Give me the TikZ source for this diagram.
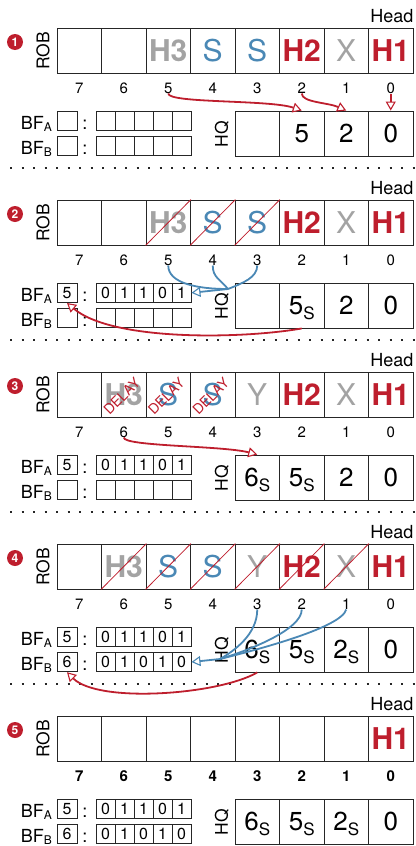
\documentclass[tikz,border=0pt]{standalone}
\usepackage{fontspec}
\setmainfont{TeX Gyre Heros}
\usepackage{xcolor}
\usepackage{tikz}
\usetikzlibrary{arrows.meta}
\definecolor{robred}{HTML}{BE1E2D}
\definecolor{robblue}{HTML}{4A88B5}
\definecolor{robgray}{HTML}{A3A3A3}
\definecolor{framegray}{HTML}{262626}
\newcommand{\bfsub}[1]{\raisebox{-2pt}{\fontsize{12}{12}\selectfont #1}}
\newcommand{\hqS}{\raisebox{-5pt}{\fontsize{17}{17}\selectfont S}}

\begin{document}
\begin{tikzpicture}[
  x=1pt, y=1pt,
  robcell/.style={draw=framegray, line width=0.9pt, minimum width=44.5pt, minimum height=45pt,
                  inner sep=0pt, font=\fontsize{30}{30}\selectfont, text height=21.5pt, text depth=0pt},
  ce/.style={},
  hg/.style={text=robgray, font=\fontsize{30}{30}\selectfont\bfseries},
  hr/.style={text=robred, font=\fontsize{30}{30}\selectfont\bfseries},
  sb/.style={text=robblue},
  xg/.style={text=robgray},
  hqcell/.style={robcell, font=\fontsize{26}{26}\selectfont, text height=18.7pt},
  idx/.style={inner sep=0pt, font=\fontsize{15}{15}\selectfont, text height=10.6pt, text depth=0pt},
  idxb/.style={idx, font=\fontsize{15}{15}\selectfont\bfseries},
  bfbox/.style={draw=framegray, line width=0.9pt, minimum width=20pt, minimum height=19.5pt,
                inner sep=0pt, font=\fontsize{16}{16}\selectfont, text height=11.5pt, text depth=0pt},
  bitbox/.style={bfbox, minimum width=19pt},
  bflbl/.style={anchor=east, inner sep=0pt, font=\fontsize{18}{18}\selectfont, text height=13pt, text depth=0pt},
  colonlbl/.style={inner sep=0pt, font=\fontsize{18}{18}\selectfont, text height=13pt, text depth=0pt},
  sidelbl/.style={rotate=90, inner sep=0pt, font=\fontsize{17.5}{18}\selectfont, text height=12.5pt, text depth=0pt},
  headlbl/.style={anchor=east, inner sep=0pt, font=\fontsize{18}{18}\selectfont, text height=13pt, text depth=0pt},
  stepnum/.style={circle, fill=robred, text=white, inner sep=0pt, minimum size=16pt,
                  font=\fontsize{12}{12}\selectfont\bfseries},
  strikeout/.style={draw=robred, line width=0.8pt},
  delaylbl/.style={rotate=45, text=robred, inner sep=0pt, font=\fontsize{14}{14}\selectfont},
  opentip/.style={-{Triangle[length=9pt,width=10pt,fill=white,line width=1.1pt]}},
  rarr/.style={opentip, draw=robred, line width=1.8pt},
  barr/.style={opentip, draw=robblue, line width=1.8pt},
  bline/.style={draw=robblue, line width=1.8pt},
  sepline/.style={draw=framegray, line width=2pt, dash pattern=on 2pt off 9.5pt}
]
  \useasboundingbox (0,0) rectangle (415,-846);

  % separators
  \draw[sepline] (10,-168) -- (415,-168);
  \draw[sepline] (10,-340) -- (415,-340);
  \draw[sepline] (10,-512) -- (415,-512);
  \draw[sepline] (10,-684) -- (415,-684);

  % ---- step 1
  \begin{scope}[yshift=-28pt]
    \node[stepnum] (n1) at (15,-14) {1};
    \node[sidelbl] (rob1) at (43,-23) {ROB};
    \node[headlbl] (hd1) at (413.5,11.7) {Head};
    \foreach \k/\sty/\txt in {7/ce/{},6/ce/{},5/hg/H3,4/sb/S,3/sb/S,2/hr/H2,1/xg/X,0/hr/H1}
      \node[robcell,\sty] (r1c\k) at ({79.25+(7-\k)*44.5},-22.5) {\txt};
    \foreach \k in {0,...,7}
      \node[idx] (i1c\k) at ({79.25+(7-\k)*44.5},-60) {\k};
    \node[sidelbl] (hq1) at (221.5,-106) {HQ};
    \foreach \k/\txt in {3/{},2/5,1/2,0/0}
      \node[hqcell] (q1c\k) at ({79.25+(7-\k)*44.5},-105.5) {\txt};
    \node[bflbl] (la1) at (52,-95) {BF\bfsub{A}};
    \node[bflbl] (lb1) at (52,-120) {BF\bfsub{B}};
    \node[bfbox] (a1) at (67,-92.8) {};
    \node[bfbox] (b1) at (67,-118) {};
    \node[colonlbl] (ca1) at (85,-95) {:};
    \node[colonlbl] (cb1) at (85,-120) {:};
    \foreach \bi in {0,...,4} {
      \node[bitbox] (a1b\bi) at ({105.5+19*\bi},-92.8) {};
      \node[bitbox] (b1b\bi) at ({105.5+19*\bi},-118) {};
    }
    % entries into HQ
    \draw[rarr] (i1c5.south) .. controls +(0,-10) and +(-32,11) .. (q1c2.north);
    \draw[rarr] (i1c2.south) .. controls +(0,-9) and +(-18,8) .. (q1c1.north);
    \draw[rarr] (i1c0.south) -- (q1c0.north);
  \end{scope}

  % ---- step 2
  \begin{scope}[yshift=-200pt]
    \node[stepnum] (n2) at (15,-14) {2};
    \node[sidelbl] (rob2) at (43,-23) {ROB};
    \node[headlbl] (hd2) at (413.5,11.7) {Head};
    \foreach \k/\sty/\txt in {7/ce/{},6/ce/{},5/hg/H3,4/sb/S,3/sb/S,2/hr/H2,1/xg/X,0/hr/H1}
      \node[robcell,\sty] (r2c\k) at ({79.25+(7-\k)*44.5},-22.5) {\txt};
    \foreach \k in {5,4,3}
      \draw[strikeout] (r2c\k.south west) -- (r2c\k.north east);
    \foreach \k in {0,...,7}
      \node[idx] (i2c\k) at ({79.25+(7-\k)*44.5},-60) {\k};
    \node[sidelbl] (hq2) at (221.5,-106) {HQ};
    \foreach \k/\txt in {3/{},2/5\hqS,1/2,0/0}
      \node[hqcell] (q2c\k) at ({79.25+(7-\k)*44.5},-105.5) {\txt};
    \node[bflbl] (la2) at (52,-95) {BF\bfsub{A}};
    \node[bflbl] (lb2) at (52,-120) {BF\bfsub{B}};
    \node[bfbox] (a2) at (67,-92.8) {5};
    \node[bfbox] (b2) at (67,-118) {};
    \node[colonlbl] (ca2) at (85,-95) {:};
    \node[colonlbl] (cb2) at (85,-120) {:};
    \foreach \bi/\txt in {0/0,1/1,2/1,3/0,4/1}
      \node[bitbox] (a2b\bi) at ({105.5+19*\bi},-92.8) {\txt};
    \foreach \bi in {0,...,4}
      \node[bitbox] (b2b\bi) at ({105.5+19*\bi},-118) {};
    % speculative slots into BF_A
    \coordinate (m2) at (228,-89);
    \draw[bline] (i2c5.south) .. controls +(0,-18) and +(-30,0) .. (m2);
    \draw[bline] (i2c4.south) .. controls +(0,-12) and +(-8,10) .. (m2);
    \draw[bline] (i2c3.south) .. controls +(0,-12) and +(15,6) .. (m2);
    \draw[barr] (m2) -- (a2b4.east);
    \draw[rarr] (q2c2.south) to[out=190,in=-40,looseness=0.65] (a2.south);
  \end{scope}

  % ---- step 3
  \begin{scope}[yshift=-372pt]
    \node[stepnum] (n3) at (15,-14) {3};
    \node[sidelbl] (rob3) at (43,-23) {ROB};
    \node[headlbl] (hd3) at (413.5,11.7) {Head};
    \foreach \k/\sty/\txt in {7/ce/{},6/hg/H3,5/sb/S,4/sb/S,3/xg/Y,2/hr/H2,1/xg/X,0/hr/H1}
      \node[robcell,\sty] (r3c\k) at ({79.25+(7-\k)*44.5},-22.5) {\txt};
    \foreach \k in {6,5,4}
      \node[delaylbl] (d3c\k) at ([xshift=-2pt,yshift=-2pt]r3c\k.center) {DELAY};
    \foreach \k in {0,...,7}
      \node[idx] (i3c\k) at ({79.25+(7-\k)*44.5},-60) {\k};
    \node[sidelbl] (hq3) at (221.5,-106) {HQ};
    \foreach \k/\txt in {3/6\hqS,2/5\hqS,1/2,0/0}
      \node[hqcell] (q3c\k) at ({79.25+(7-\k)*44.5},-105.5) {\txt};
    \node[bflbl] (la3) at (52,-95) {BF\bfsub{A}};
    \node[bflbl] (lb3) at (52,-120) {BF\bfsub{B}};
    \node[bfbox] (a3) at (67,-92.8) {5};
    \node[bfbox] (b3) at (67,-118) {};
    \node[colonlbl] (ca3) at (85,-95) {:};
    \node[colonlbl] (cb3) at (85,-120) {:};
    \foreach \bi/\txt in {0/0,1/1,2/1,3/0,4/1}
      \node[bitbox] (a3b\bi) at ({105.5+19*\bi},-92.8) {\txt};
    \foreach \bi in {0,...,4}
      \node[bitbox] (b3b\bi) at ({105.5+19*\bi},-118) {};
    \draw[rarr] (i3c6.south) .. controls +(0,-9) and +(-35,9) .. (q3c3.north);
  \end{scope}

  % ---- step 4
  \begin{scope}[yshift=-544pt]
    \node[stepnum] (n4) at (15,-14) {4};
    \node[sidelbl] (rob4) at (43,-23) {ROB};
    \node[headlbl] (hd4) at (413.5,11.7) {Head};
    \foreach \k/\sty/\txt in {7/ce/{},6/hg/H3,5/sb/S,4/sb/S,3/xg/Y,2/hr/H2,1/xg/X,0/hr/H1}
      \node[robcell,\sty] (r4c\k) at ({79.25+(7-\k)*44.5},-22.5) {\txt};
    \foreach \k in {6,...,1}
      \draw[strikeout] (r4c\k.south west) -- (r4c\k.north east);
    \foreach \k in {0,...,7}
      \node[idx] (i4c\k) at ({79.25+(7-\k)*44.5},-60) {\k};
    \node[sidelbl] (hq4) at (221.5,-106) {HQ};
    \foreach \k/\txt in {3/6\hqS,2/5\hqS,1/2\hqS,0/0}
      \node[hqcell] (q4c\k) at ({79.25+(7-\k)*44.5},-105.5) {\txt};
    \node[bflbl] (la4) at (52,-95) {BF\bfsub{A}};
    \node[bflbl] (lb4) at (52,-120) {BF\bfsub{B}};
    \node[bfbox] (a4) at (67,-92.8) {5};
    \node[bfbox] (b4) at (67,-118) {6};
    \node[colonlbl] (ca4) at (85,-95) {:};
    \node[colonlbl] (cb4) at (85,-120) {:};
    \foreach \bi/\txt in {0/0,1/1,2/1,3/0,4/1}
      \node[bitbox] (a4b\bi) at ({105.5+19*\bi},-92.8) {\txt};
    \foreach \bi/\txt in {0/0,1/1,2/0,3/1,4/0}
      \node[bitbox] (b4b\bi) at ({105.5+19*\bi},-118) {\txt};
    % speculative slots into BF_B
    \coordinate (m4) at (220,-115);
    \draw[bline] (i4c3.south) .. controls +(0,-25) and +(14,8) .. (m4);
    \draw[bline] (i4c2.south) .. controls +(0,-20) and +(30,9) .. (m4);
    \draw[bline] (i4c1.south) .. controls +(-5,-18) and +(40,10) .. (m4);
    \draw[barr] (m4) -- (b4b4.east);
    \draw[rarr] (q4c3.south) to[out=-150,in=-45,looseness=0.6] (b4.south);
  \end{scope}

  % ---- step 5
  \begin{scope}[yshift=-716pt]
    \node[stepnum] (n5) at (15,-14) {5};
    \node[sidelbl] (rob5) at (43,-23) {ROB};
    \node[headlbl] (hd5) at (413.5,11.7) {Head};
    \foreach \k/\sty/\txt in {7/ce/{},6/ce/{},5/ce/{},4/ce/{},3/ce/{},2/ce/{},1/ce/{},0/hr/H1}
      \node[robcell,\sty] (r5c\k) at ({79.25+(7-\k)*44.5},-22.5) {\txt};
    \foreach \k in {0,...,7}
      \node[idxb] (i5c\k) at ({79.25+(7-\k)*44.5},-60) {\k};
    \node[sidelbl] (hq5) at (221.5,-106) {HQ};
    \foreach \k/\txt in {3/6\hqS,2/5\hqS,1/2\hqS,0/0}
      \node[hqcell] (q5c\k) at ({79.25+(7-\k)*44.5},-105.5) {\txt};
    \node[bflbl] (la5) at (52,-95) {BF\bfsub{A}};
    \node[bflbl] (lb5) at (52,-120) {BF\bfsub{B}};
    \node[bfbox] (a5) at (67,-92.8) {5};
    \node[bfbox] (b5) at (67,-118) {6};
    \node[colonlbl] (ca5) at (85,-95) {:};
    \node[colonlbl] (cb5) at (85,-120) {:};
    \foreach \bi/\txt in {0/0,1/1,2/1,3/0,4/1}
      \node[bitbox] (a5b\bi) at ({105.5+19*\bi},-92.8) {\txt};
    \foreach \bi/\txt in {0/0,1/1,2/0,3/1,4/0}
      \node[bitbox] (b5b\bi) at ({105.5+19*\bi},-118) {\txt};
  \end{scope}
\end{tikzpicture}
\end{document}
